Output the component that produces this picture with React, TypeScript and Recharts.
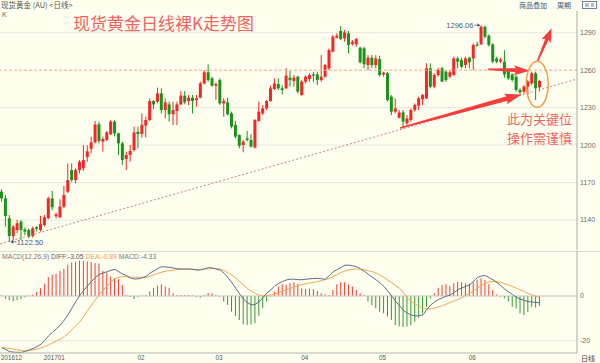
import React from 'react';
import { ComposedChart, Bar, Line, XAxis, YAxis, CartesianGrid, ReferenceLine, ReferenceDot, Cell } from 'recharts';

// ---------- data ----------
const opens = [
  1162.7,1157.4,1141.4,1127.0,1132.0,1138.7,1132.5,1132.0,1127.2,1134.2,
  1132.0,1136.0,1141.4,1157.4,1143.0,1142.2,1150.7,1162.7,1180.0,1172.0,
  1180.0,1181.4,1190.4,1197.0,1202.2,1216.6,1202.8,1204.1,1208.6,1218.8,
  1209.4,1201.4,1188.9,1192.1,1196.1,1210.7,1208.9,1215.6,1220.1,1235.3,
  1234.8,1241.4,1228.1,1232.6,1224.7,1227.3,1232.6,1239.6,1235.3,1238.0,
  1236.1,1238.0,1249.4,1258.3,1253.5,1247.6,1252.1,1233.4,1234.2,1225.4,
  1216.1,1208.1,1200.1,1205.4,1204.1,1198.0,1219.3,1225.4,1229.4,1235.3,
  1244.9,1248.9,1245.5,1245.5,1254.0,1251.4,1254.8,1240.1,1250.8,1252.9,
  1256.6,1256.6,1252.1,1254.8,1261.5,1274.8,1286.0,1291.4,1285.5,1289.5,
  1280.9,1280.7,1278.0,1277.5,1264.1,1270.0,1264.1,1268.9,1256.6,1257.5,
  1238.8,1226.8,1221.9,1226.2,1217.4,1220.1,1228.1,1231.6,1236.8,1237.4,
  1261.5,1246.8,1256.1,1261.5,1258.8,1254.8,1256.1,1269.4,1268.1,1264.1,
  1270.0,1269.4,1280.7,1280.7,1294.8,1287.6,1280.7,1269.4,1267.0,1266.8,
  1259.8,1256.6,1254.8,1244.1,1242.8,1246.8,1249.4,1257.5,1246.2,
];
const closes = [
  1157.4,1143.2,1127.2,1134.7,1137.4,1132.0,1130.7,1126.7,1133.4,1132.9,
  1136.8,1142.2,1157.4,1150.2,1144.6,1150.7,1160.0,1172.0,1172.0,1180.0,
  1186.7,1188.0,1195.0,1202.2,1216.6,1203.3,1204.9,1210.2,1218.8,1209.4,
  1201.4,1188.1,1192.1,1195.3,1210.2,1208.9,1216.1,1220.1,1235.3,1232.6,
  1241.4,1228.1,1234.2,1224.7,1228.1,1232.6,1239.6,1234.2,1238.0,1235.3,
  1237.5,1249.4,1258.3,1252.1,1247.6,1248.9,1233.4,1235.3,1224.6,1214.8,
  1206.8,1199.5,1202.8,1204.1,1198.8,1220.1,1226.8,1229.4,1235.3,1245.5,
  1249.4,1245.5,1244.1,1255.6,1252.1,1254.0,1242.8,1250.8,1254.8,1256.1,
  1255.6,1252.1,1254.8,1264.1,1276.2,1286.8,1287.6,1284.9,1290.3,1280.2,
  1282.8,1284.9,1266.3,1264.7,1270.0,1264.1,1269.4,1256.1,1258.0,1236.1,
  1226.8,1229.4,1226.2,1218.8,1221.4,1228.1,1232.1,1237.5,1240.1,1261.5,
  1246.8,1256.1,1260.1,1250.8,1252.1,1258.3,1269.4,1266.8,1262.8,1269.4,
  1266.3,1280.2,1279.6,1294.8,1286.8,1280.2,1266.8,1266.8,1268.5,1256.6,
  1253.5,1252.1,1244.1,1242.2,1246.8,1250.8,1257.5,1245.5,1251.4,
];
const highs = [
  1164.6,1160.0,1144.0,1136.0,1140.0,1140.0,1134.0,1133.4,1134.7,1135.0,
  1143.3,1144.0,1158.7,1163.3,1146.0,1156.6,1167.3,1185.4,1185.4,1181.4,
  1188.0,1200.0,1200.0,1206.8,1219.3,1218.7,1206.8,1211.3,1220.0,1220.0,
  1210.0,1202.8,1194.8,1200.1,1214.8,1214.8,1225.4,1222.8,1237.5,1236.1,
  1246.0,1245.5,1237.5,1234.8,1234.8,1234.8,1243.3,1243.3,1240.1,1240.1,
  1240.1,1250.8,1260.1,1264.7,1254.8,1250.3,1253.5,1237.5,1238.0,1226.8,
  1219.3,1208.6,1204.1,1211.3,1208.6,1220.9,1234.8,1232.1,1236.1,1247.6,
  1253.5,1253.5,1248.0,1261.5,1259.3,1256.0,1255.5,1252.0,1256.0,1257.5,
  1258.8,1258.8,1272.1,1265.0,1277.5,1288.2,1289.5,1295.2,1292.2,1291.4,
  1284.1,1286.0,1278.8,1278.8,1272.1,1272.1,1272.1,1271.6,1258.8,1258.8,
  1240.1,1237.4,1228.1,1228.1,1224.1,1229.4,1233.4,1238.8,1240.9,1265.5,
  1265.5,1257.5,1262.0,1262.8,1260.1,1260.1,1270.8,1270.8,1270.0,1270.8,
  1270.8,1281.5,1282.8,1296.06,1295.5,1288.7,1281.5,1270.8,1270.0,1276.0,
  1261.5,1257.5,1256.1,1245.5,1248.1,1252.1,1258.8,1258.8,1252.1,
];
const lows = [
  1154.7,1134.7,1122.5,1124.0,1129.4,1124.0,1128.0,1125.4,1126.0,1131.0,
  1130.7,1134.7,1140.6,1148.0,1141.4,1141.4,1149.4,1161.4,1170.7,1169.4,
  1177.4,1179.4,1186.7,1193.4,1201.4,1201.4,1194.8,1203.3,1208.1,1207.0,
  1192.1,1184.1,1180.0,1186.8,1194.8,1197.4,1206.0,1206.0,1219.3,1228.9,
  1233.4,1225.4,1221.4,1218.8,1216.1,1216.1,1232.0,1232.6,1232.1,1225.4,
  1230.8,1237.5,1248.6,1250.8,1246.8,1236.1,1232.1,1222.8,1224.0,1213.4,
  1205.4,1197.4,1194.2,1202.8,1198.0,1197.4,1218.8,1224.1,1228.1,1234.8,
  1244.1,1244.1,1240.6,1244.8,1246.8,1246.8,1241.4,1239.6,1249.4,1250.8,
  1250.8,1248.1,1250.8,1254.0,1260.1,1274.2,1285.5,1284.1,1282.8,1273.5,
  1279.6,1278.8,1265.5,1261.5,1260.1,1262.0,1261.5,1254.8,1254.8,1234.8,
  1224.1,1225.4,1221.4,1213.4,1216.1,1218.8,1226.8,1228.1,1232.0,1236.8,
  1245.5,1245.5,1254.8,1250.8,1250.8,1253.5,1255.6,1261.5,1261.5,1261.5,
  1261.5,1260.1,1278.8,1280.2,1285.5,1278.8,1265.5,1265.5,1265.5,1254.0,
  1252.1,1250.8,1242.8,1240.6,1241.4,1240.1,1248.1,1236.1,1243.0,
];
const macdHist = [
  0.5,-1.2,-1.8,-2.4,-1.8,-1.3,-0.6,0.2,0.7,1.8,
  3.5,5.5,8.5,9.5,10.0,11.2,12.2,14.0,15.0,15.3,
  15.8,15.7,15.5,15.2,14.8,14.5,11.2,10.5,8.7,7.9,
  7.5,4.9,0.4,-0.5,-1.5,-0.5,0.3,0.5,2.0,3.7,
  4.6,5.2,4.2,3.7,1.2,0.5,0.5,0.4,0.4,0.3,
  -0.4,-0.7,0.5,1.3,1.2,0.4,-0.5,-2.5,-4.0,-7.0,
  -8.9,-10.7,-12.6,-13.0,-12.8,-12.2,-8.8,-5.5,-2.5,-0.3,
  1.9,4.2,5.2,5.0,5.7,6.1,5.5,3.4,3.2,3.2,
  3.0,2.2,1.2,0.8,0.4,2.7,5.2,6.1,6.1,5.2,
  4.2,2.7,1.2,0.4,-2.5,-4.0,-5.5,-7.0,-7.7,-9.2,
  -10.7,-13.0,-13.7,-13.9,-13.6,-13.0,-11.5,-9.7,-7.7,-4.8,
  -1.0,1.2,3.7,4.9,5.2,4.6,5.7,6.4,6.1,5.7,
  5.5,6.1,7.2,7.9,7.2,5.2,2.7,0.7,-0.3,-1.0,
  -2.5,-4.8,-5.5,-7.7,-8.5,-7.0,-4.8,-5.2,-4.33,
];
const diffLine = [
  -23.1,-24.0,-24.9,-25.1,-25.2,-25.2,-24.8,-24.1,-23.5,-22.6,
  -21.6,-19.8,-17.8,-16.2,-14.6,-13.0,-10.8,-8.2,-5.3,-2.4,
  0.4,2.5,4.6,6.6,8.3,9.7,10.3,10.9,11.5,11.9,
  10.8,9.8,9.1,8.0,7.6,7.7,8.2,8.8,10.3,11.2,
  12.3,13.1,13.0,12.8,12.5,12.2,12.1,12.1,12.1,11.9,
  11.6,11.7,12.2,12.7,12.5,12.0,11.6,10.2,8.2,5.9,
  3.4,0.9,-1.5,-3.0,-4.0,-3.7,-2.6,-0.6,1.4,2.8,
  4.5,5.6,6.5,7.2,7.5,7.5,7.3,7.3,7.5,7.7,
  7.8,7.9,7.7,7.5,9.2,10.9,11.8,12.8,13.8,13.8,
  13.5,13.1,12.1,11.0,9.7,8.4,7.2,5.8,4.2,2.2,
  -0.1,-2.4,-4.4,-6.5,-7.7,-8.5,-8.9,-8.8,-8.5,-6.0,
  -4.0,-2.6,-1.6,-0.8,-0.1,0.5,1.6,2.9,3.6,4.3,
  5.0,6.6,8.3,9.0,9.1,8.2,7.2,6.0,4.6,3.0,
  1.8,0.6,-0.6,-1.4,-2.0,-2.5,-2.7,-2.9,-3.05,
];
const deaLine = [
  -23.0,-23.3,-23.5,-23.8,-24.1,-24.4,-24.6,-24.4,-24.1,-23.7,
  -23.2,-22.6,-21.8,-20.9,-20.1,-19.2,-18.1,-16.8,-15.0,-13.2,
  -11.5,-9.0,-6.4,-4.0,-1.6,0.6,2.7,4.6,6.4,7.8,
  8.4,8.7,8.6,8.5,8.4,8.4,8.4,8.4,8.8,9.5,
  10.1,10.7,11.1,11.4,11.6,11.8,11.9,11.9,11.9,11.9,
  11.9,11.9,12.0,12.2,12.4,12.3,12.0,11.4,10.4,9.3,
  8.0,6.4,4.9,3.3,2.1,1.1,0.4,0.0,0.1,0.5,
  0.9,1.5,2.2,2.8,3.4,4.0,4.7,5.1,5.5,5.8,
  6.2,6.5,6.9,7.4,7.9,8.8,9.6,10.5,11.2,11.7,
  11.9,12.1,12.0,11.7,11.3,10.9,10.2,9.3,8.3,7.1,
  5.9,4.6,3.4,1.4,-0.9,-2.3,-3.6,-4.6,-5.3,-5.8,
  -5.7,-5.4,-4.9,-4.3,-3.6,-2.9,-2.2,-1.5,-0.7,0.3,
  1.3,2.4,3.6,4.7,5.6,6.3,6.5,6.4,6.0,5.5,
  4.9,4.2,3.4,2.7,2.0,1.1,0.5,-0.2,-0.89,
];

const priceTicks = [1140, 1170, 1200, 1230, 1260, 1290];
const priceGrid = [1140, 1170, 1200, 1230, 1290];
const markPrice = 1260;
const macdTicks = [-20, 0];
const monthTickIndex = [0, 11, 35, 55, 77, 97, 120];
const monthTickLabels = ['201612', '201701', '02', '03', '04', '05', '06'];
const trendLine = [{ x: -0.5, y: 1120.8 }, { x: 147.5, y: 1252.9 }];
const arrowUp = [{ x: 102.1, y: 1213.7 }, { x: 133.3, y: 1240.5 }];
const arrowSide = [{ x: 124.7, y: 1260.7 }, { x: 135.4, y: 1259.6 }];
const arrowOut = [{ x: 137.3, y: 1266.8 }, { x: 141.0, y: 1293.5 }];
const focus = { x: 137.3, y: 1248.7 };

// ---------- derived ----------
const candles = opens.map((open, i) => ({
  i, open, close: closes[i], high: highs[i], low: lows[i], range: [lows[i], highs[i]],
}));
const macdData = macdHist.map((macd, i) => ({ i, macd, diff: diffLine[i], dea: deaLine[i] }));
const maxHigh = Math.max(...highs);
const maxIdx = highs.indexOf(maxHigh);
const minLow = Math.min(...lows);
const minIdx = lows.indexOf(minLow);

// ---------- style ----------
const BG = '#fffff0';
const UP = '#f42626';
const DOWN = '#1b931b';
const ARROW = '#f83c3c';
const NOTE = '#f26464';
const SMALL = 'Liberation Sans, Arial, sans-serif';
const CJK = '"Noto Sans CJK SC", sans-serif';

const Candle = (p: any) => {
  const { x, width, payload } = p;
  let { y, height } = p;
  if (height < 0) { y = y + height; height = -height; }
  const { open, close, high, low } = payload;
  const color = close >= open ? UP : DOWN;
  const cx = x + width / 2;
  const k = high - low > 0 ? height / (high - low) : 0;
  const top = y + (high - Math.max(open, close)) * k;
  const bot = y + (high - Math.min(open, close)) * k;
  return (
    <g>
      <line x1={cx} x2={cx} y1={y} y2={y + height} stroke={color} strokeWidth={1} />
      <rect x={cx - 1.5} y={top} width={3} height={Math.max(1, bot - top)} fill={color} />
    </g>
  );
};

const makeArrow = (headLen: number, headW: number, tailW: number, neckW: number) => (p: any) => {
  const { x1, y1, x2, y2 } = p;
  const dx = x2 - x1, dy = y2 - y1;
  const len = Math.hypot(dx, dy) || 1;
  const ux = dx / len, uy = dy / len, nx = -uy, ny = ux;
  const bx = x2 - ux * headLen, by = y2 - uy * headLen;
  const pts = [
    [x1 + nx * tailW / 2, y1 + ny * tailW / 2],
    [bx + nx * neckW / 2, by + ny * neckW / 2],
    [bx - ux * 2 + nx * headW / 2, by - uy * 2 + ny * headW / 2],
    [x2, y2],
    [bx - ux * 2 - nx * headW / 2, by - uy * 2 - ny * headW / 2],
    [bx - nx * neckW / 2, by - ny * neckW / 2],
    [x1 - nx * tailW / 2, y1 - ny * tailW / 2],
  ];
  return <polygon points={pts.map((q) => q.join(',')).join(' ')} fill={ARROW} />;
};

const FocusEllipse = (p: any) => (
  <ellipse cx={p.cx} cy={p.cy} rx={11} ry={23} fill="none" stroke="#f0a04a" strokeWidth={1.5} />
);

const HighLabel = (p: any) => (
  <g>
    <text x={p.cx - 8} y={p.cy} dy="0.35em" textAnchor="end" fontSize={7.5} fontFamily={SMALL} fill="#4a5878">
      {maxHigh.toFixed(2)}
    </text>
    <line x1={p.cx - 7} x2={p.cx - 1.5} y1={p.cy} y2={p.cy} stroke="#4a5878" strokeWidth={0.8} />
    <path d={`M${p.cx - 1.5},${p.cy} l-2.5,-1.8 l0,3.6 z`} fill="#4a5878" />
  </g>
);

const LowLabel = (p: any) => (
  <g>
    <line x1={p.cx + 1} x2={p.cx + 6.5} y1={p.cy} y2={p.cy} stroke="#4a5878" strokeWidth={0.8} />
    <path d={`M${p.cx + 1},${p.cy} l2.5,-1.8 l0,3.6 z`} fill="#4a5878" />
    <text x={p.cx + 7} y={p.cy} dy="0.35em" textAnchor="start" fontSize={7.5} fontFamily={SMALL} fill="#4a5878">
      {minLow.toFixed(2)}
    </text>
  </g>
);

const RightTick = (p: any) => (
  <text x={p.x} y={p.y} dy="0.35em" textAnchor="start" fontSize={7} fontFamily={SMALL} fill="#6a6a6a">
    {p.payload.value}
  </text>
);

const DateTick = (p: any) => {
  const k = monthTickIndex.indexOf(p.payload.value);
  return (
    <text x={p.x - 1} y={p.y} dy="0.72em" textAnchor="start" fontSize={6.3} fontFamily={SMALL} fill="#555">
      {k >= 0 ? monthTickLabels[k] : ''}
    </text>
  );
};

const abs = (s: React.CSSProperties): React.CSSProperties => ({ position: 'absolute', whiteSpace: 'nowrap', ...s });

export default function App() {
  return (
    <div style={{ position: 'absolute', left: 0, top: 0, width: 600, height: 363, background: BG, overflow: 'hidden' }}>
      {/* header */}
      <div style={abs({ left: 1, top: 0, fontSize: 7.5, lineHeight: '10px', color: '#555', fontFamily: CJK })}>
        现货黄金 (AU) &lt;日线&gt;
      </div>
      <div style={abs({ left: 519, top: 0, fontSize: 7, lineHeight: '10px', color: '#2f5582', fontFamily: CJK })}>商品叠加</div>
      <div style={abs({ left: 557, top: 0, fontSize: 7, lineHeight: '10px', color: '#2f5582', fontFamily: CJK })}>周期</div>
      <svg style={abs({ left: 582, top: 1 })} width={16} height={9}>
        <rect x={0.5} y={0.5} width={14} height={7} fill="none" stroke="#6b84a3" />
        <line x1={3} x2={7} y1={3} y2={3} stroke="#6b84a3" />
        <line x1={3} x2={7} y1={5} y2={5} stroke="#6b84a3" />
        <line x1={9} x2={12} y1={3} y2={3} stroke="#6b84a3" />
        <line x1={9} x2={12} y1={5} y2={5} stroke="#6b84a3" />
      </svg>
      <div style={abs({ left: 2, top: 11, fontSize: 7, lineHeight: '8px', color: '#666', fontFamily: SMALL })}>K</div>

      {/* main candlestick panel */}
      <div style={abs({ left: 0, top: 0 })}>
        <ComposedChart width={600} height={251} data={candles} margin={{ top: 11, right: 0, bottom: 1, left: 0 }}>
          <CartesianGrid vertical={false} horizontalValues={priceGrid} stroke="#e6e6dc" />
          <XAxis type="number" dataKey="i" domain={[-0.5, 147.5]} ticks={monthTickIndex} hide allowDataOverflow />
          <YAxis
            orientation="right"
            width={23}
            domain={[1116, 1307.4]}
            ticks={priceTicks}
            interval={0}
            allowDataOverflow
            tickLine={false}
            tickSize={0}
            tickMargin={3}
            axisLine={{ stroke: '#aaaaaa' }}
            tick={<RightTick />}
          />
          <ReferenceLine y={markPrice} stroke="#f2a888" strokeDasharray="3 2" />
          <ReferenceLine segment={trendLine} stroke="#c98282" strokeDasharray="2 2" />
          <Bar dataKey="range" shape={Candle} barSize={3} isAnimationActive={false} />
          <ReferenceLine segment={arrowUp} shape={makeArrow(15, 11, 1.5, 4.5)} />
          <ReferenceLine segment={arrowSide} shape={makeArrow(14, 10, 1.5, 4)} />
          <ReferenceLine segment={arrowOut} shape={makeArrow(12, 10, 1.5, 3.5)} />
          <ReferenceDot x={focus.x} y={focus.y} r={1} shape={FocusEllipse} />
          <ReferenceDot x={maxIdx} y={maxHigh} r={1} shape={HighLabel} />
          <ReferenceDot x={minIdx} y={minLow} r={1} shape={LowLabel} />
        </ComposedChart>
      </div>

      {/* title + note */}
      <div style={abs({ left: 73, top: 14, fontSize: 17, lineHeight: '17px', color: NOTE, fontFamily: CJK })}>
        现货黄金日线裸K走势图
      </div>
      <div style={abs({ left: 507, top: 112, fontSize: 13, lineHeight: '14px', color: NOTE, fontFamily: CJK })}>
        此为关键位
      </div>
      <div style={abs({ left: 507, top: 131, fontSize: 13, lineHeight: '14px', color: NOTE, fontFamily: CJK })}>
        操作需谨慎
      </div>

      {/* MACD panel */}
      <div style={abs({ left: 0, top: 250.5, width: 600, height: 0, borderTop: '1px solid #dcdcd2' })} />
      <div style={abs({ left: 0, top: 251 })}>
        <ComposedChart width={600} height={112} data={macdData} margin={{ top: 0, right: 0, bottom: 0, left: 0 }}>
          <CartesianGrid vertical={false} horizontalValues={[-20]} stroke="#e6e6dc" />
          <XAxis
            type="number"
            dataKey="i"
            domain={[-0.5, 147.5]}
            ticks={monthTickIndex}
            interval={0}
            height={10}
            allowDataOverflow
            tickLine={false}
            tickSize={0}
            tickMargin={2}
            axisLine={{ stroke: '#b4b4b4' }}
            tick={<DateTick />}
          />
          <YAxis
            orientation="right"
            width={23}
            domain={[-25.5, 20.13]}
            ticks={macdTicks}
            interval={0}
            allowDataOverflow
            tickLine={false}
            tickSize={0}
            tickMargin={3}
            axisLine={{ stroke: '#aaaaaa' }}
            tick={<RightTick />}
          />
          <ReferenceLine y={0} stroke="#c4c4c4" />
          <Bar dataKey="macd" barSize={1} isAnimationActive={false}>
            {macdData.map((d) => (
              <Cell key={d.i} fill={d.macd >= 0 ? '#f43a3a' : '#2f9a2f'} />
            ))}
          </Bar>
          <Line type="linear" dataKey="dea" stroke="#f7a54c" strokeWidth={1} dot={false} isAnimationActive={false} />
          <Line type="linear" dataKey="diff" stroke="#5d6c88" strokeWidth={1} dot={false} isAnimationActive={false} />
        </ComposedChart>
      </div>
      <div style={abs({ left: 2, top: 253, fontSize: 6.8, lineHeight: '8px', fontFamily: SMALL })}>
        <span style={{ color: '#777' }}>MACD(12,26,9) </span>
        <span style={{ color: '#4a5878' }}>DIFF:{diffLine[diffLine.length - 1].toFixed(2)} </span>
        <span style={{ color: '#f3a040' }}>DEA:{deaLine[deaLine.length - 1].toFixed(2)} </span>
        <span style={{ color: '#777' }}>MACD:{macdHist[macdHist.length - 1].toFixed(2)}</span>
      </div>
      <div style={abs({ left: 581, top: 354, fontSize: 7, lineHeight: '9px', color: '#444', fontFamily: CJK })}>日线</div>
    </div>
  );
}
